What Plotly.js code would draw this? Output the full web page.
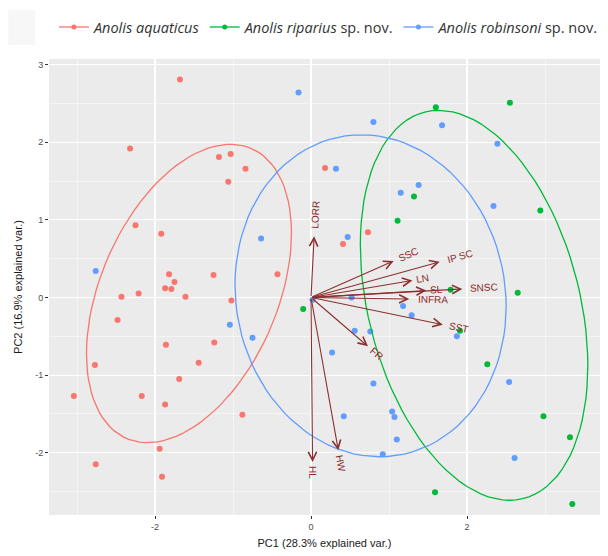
<!DOCTYPE html>
<html><head><meta charset="utf-8">
<script src="https://cdn.plot.ly/plotly-3.0.1.min.js"></script>
<style>html,body{margin:0;padding:0;background:#fff}</style>
</head><body><div id="chart" style="width:608px;height:556px"></div>
<script>
// ---- data ----
const legendNames = ['<i>Anolis aquaticus</i>', '<i>Anolis riparius</i> sp. nov.', '<i>Anolis robinsoni</i> sp. nov.'];
const groupColors = ['#F8766D', '#00BA38', '#619CFF'];

const aquaticusPC1 = [-1.68,-2.32,-1.18,-1.03,-0.84,-1.06,-2.25,-1.92,-1.82,-1.75,-1.87,-1.79,-2.21,-2.43,-1.61,-1.25,-1.02,-0.43,-2.48,-1.86,-1.24,-2.77,-1.44,-1.69,-3.04,-2.17,-1.87,-0.88,-1.94,-2.76,-1.91,0.18,0.73,0.41];
const aquaticusPC2 = [2.81,1.92,1.81,1.85,1.66,1.49,0.93,0.82,0.30,0.20,0.12,0.11,0.05,0.01,0.01,0.29,-0.04,0.30,-0.29,-0.61,-0.58,-0.87,-0.84,-1.05,-1.27,-1.27,-1.38,-1.51,-1.95,-2.15,-2.31,1.67,0.84,0.69];

const ripariusPC1 = [1.60,2.55,1.32,1.11,2.94,1.79,2.65,-0.10,1.91,2.26,2.98,3.32,1.59,3.35];
const ripariusPC2 = [2.45,2.51,1.30,0.99,1.12,0.10,0.06,-0.15,-0.43,-0.86,-1.53,-1.80,-2.51,-2.66];

const robinsoniPC1 = [-0.16,-0.64,-2.76,-1.04,-0.75,0.80,1.68,2.39,0.32,1.38,1.15,2.34,0.47,0.52,1.18,1.29,0.02,0.56,0.76,1.87,0.27,2.54,0.80,0.42,1.04,1.07,1.10,2.61,0.92];
const robinsoniPC2 = [2.64,0.76,0.34,-0.35,-0.52,2.26,2.22,1.98,1.66,1.45,1.35,1.18,0.78,0.00,-0.11,-0.23,-0.03,-0.43,-0.44,-0.50,-0.71,-1.09,-1.11,-1.53,-1.47,-1.54,-1.83,-2.07,-2.02];

const varNames = ['LORR','SSC','IP SC','LN','SNSC','SL','INFRA','SST','FR','HW','HL'];
const varPC1 = [0.04,1.06,1.65,1.30,1.94,1.48,1.26,1.69,0.73,0.35,0.02];
const varPC2 = [0.79,0.47,0.46,0.22,0.11,0.09,-0.02,-0.35,-0.63,-1.97,-2.12];

const xTickVals = [-2,0,2], xTickText = ['-2','0','2'];
const yTickVals = [-2,-1,0,1,2,3], yTickText = ['-2','-1','0','1','2','3'];

// ---- layout geometry ----
const W = 608, H = 556;
const margin = {l:49, r:8, t:59, b:41};
const xRange = [-3.359, 3.705], yRange = [-2.803, 3.073];
const plotW = W - margin.l - margin.r, plotH = H - margin.t - margin.b;
const sx = plotW / (xRange[1]-xRange[0]), sy = plotH / (yRange[1]-yRange[0]);

// normal-probability ellipse (68%), as in ggbiplot
function ellipse(xs, ys) {
  const n = xs.length;
  const mx = xs.reduce((a,b)=>a+b,0)/n, my = ys.reduce((a,b)=>a+b,0)/n;
  let a=0,b=0,c=0;
  for (let i=0;i<n;i++){a+=(xs[i]-mx)**2; b+=(xs[i]-mx)*(ys[i]-my); c+=(ys[i]-my)**2;}
  a/=(n-1); b/=(n-1); c/=(n-1);
  const r11=Math.sqrt(a), r12=b/r11, r22=Math.sqrt(c-r12*r12);
  const ed = Math.sqrt(-2*Math.log(1-0.68));
  const ex=[], ey=[];
  for (let k=0;k<=100;k++){
    const t = -Math.PI + 2*Math.PI*k/100;
    const ct=Math.cos(t), st=Math.sin(t);
    ex.push(mx + ed*ct*r11);
    ey.push(my + ed*(ct*r12 + st*r22));
  }
  return {ex, ey};
}

const groups = [[aquaticusPC1,aquaticusPC2],[ripariusPC1,ripariusPC2],[robinsoniPC1,robinsoniPC2]];
const traces = [];
groups.forEach((g,i)=>{
  traces.push({type:'scatter', mode:'markers', x:g[0], y:g[1], showlegend:false, hoverinfo:'skip',
    marker:{color:groupColors[i], size:6}});
});
groups.forEach((g,i)=>{
  const e = ellipse(g[0], g[1]);
  traces.push({type:'scatter', mode:'lines', x:e.ex, y:e.ey, showlegend:false, hoverinfo:'skip',
    line:{color:groupColors[i], width:1.3}});
});
groups.forEach((g,i)=>{
  traces.push({type:'scatter', mode:'lines+markers', x:[null], y:[null], name:legendNames[i],
    line:{color:groupColors[i], width:1.3}, marker:{color:groupColors[i], size:5}});
});

// arrows + labels
const arrowColor = '#8B3030';
const labelFont = {family:'Liberation Sans, Arial, sans-serif', size:10, color:'#8B2A2A'};
const cv = document.createElement('canvas').getContext('2d');
cv.font = "10px 'Liberation Sans'";
const annotations = [];
varNames.forEach((nm,i)=>{
  const vx = varPC1[i], vy = varPC2[i];
  annotations.push({x:vx, y:vy, xref:'x', yref:'y', ax:0, ay:0, axref:'x', ayref:'y',
    text:'', showarrow:true, arrowhead:5, arrowsize:1.5, arrowwidth:1.1, arrowcolor:arrowColor, standoff:0});
  const px = vx*sx, py = vy*sy, len = Math.hypot(px,py);
  const ux = px/len, uy = py/len;
  const w = cv.measureText(nm).width || nm.length*6.5;
  const d = 0.75*w + 1;
  const ang = Math.atan(vy/vx)*180/Math.PI;
  annotations.push({x:vx, y:vy, xref:'x', yref:'y', text:nm, showarrow:false,
    xanchor:'center', yanchor:'middle', xshift:ux*d, yshift:uy*d, textangle:-ang, font:labelFont});
});

const axisCommon = {
  showgrid:true, gridcolor:'#FFFFFF', gridwidth:1.1, zeroline:false, showline:false,
  ticks:'outside', ticklen:3, tickwidth:1, tickcolor:'#333333',
  tickfont:{family:'Liberation Sans, Arial, sans-serif', size:9, color:'#4D4D4D'},
  tickmode:'array', fixedrange:true
};
const layout = {
  width:W, height:H, margin:margin,
  paper_bgcolor:'#FFFFFF', plot_bgcolor:'#EBEBEB',
  xaxis: Object.assign({}, axisCommon, {range:xRange, tickvals:xTickVals, ticktext:xTickText,
    minor:{tickmode:'array', tickvals:[-3,-1,1,3], showgrid:true, gridcolor:'#FFFFFF', gridwidth:0.5, ticks:''},
    title:{text:'PC1 (28.3% explained var.)', standoff:8, font:{family:'Liberation Sans, Arial, sans-serif', size:11, color:'#1a1a1a'}}}),
  yaxis: Object.assign({}, axisCommon, {range:yRange, tickvals:yTickVals, ticktext:yTickText,
    minor:{tickmode:'array', tickvals:[-2.5,-1.5,-0.5,0.5,1.5,2.5], showgrid:true, gridcolor:'#FFFFFF', gridwidth:0.5, ticks:''},
    title:{text:'PC2 (16.9% explained var.)', standoff:10, font:{family:'Liberation Sans, Arial, sans-serif', size:11, color:'#1a1a1a'}}}),
  showlegend:true,
  legend:{orientation:'h', x:0.009, xanchor:'left', y:1.07, yanchor:'middle', bgcolor:'rgba(0,0,0,0)',
    font:{family:'Open Sans, sans-serif', size:14.5, color:'#333333'}, itemwidth:30},
  shapes:[{type:'rect', xref:'paper', yref:'paper', x0:-0.074, x1:-0.025, y0:1.031, y1:1.107,
    fillcolor:'#F7F7F7', line:{width:0}, layer:'below'}],
  annotations: annotations
};
Plotly.newPlot('chart', traces, layout, {displayModeBar:false, staticPlot:true});
</script>
</body></html>
